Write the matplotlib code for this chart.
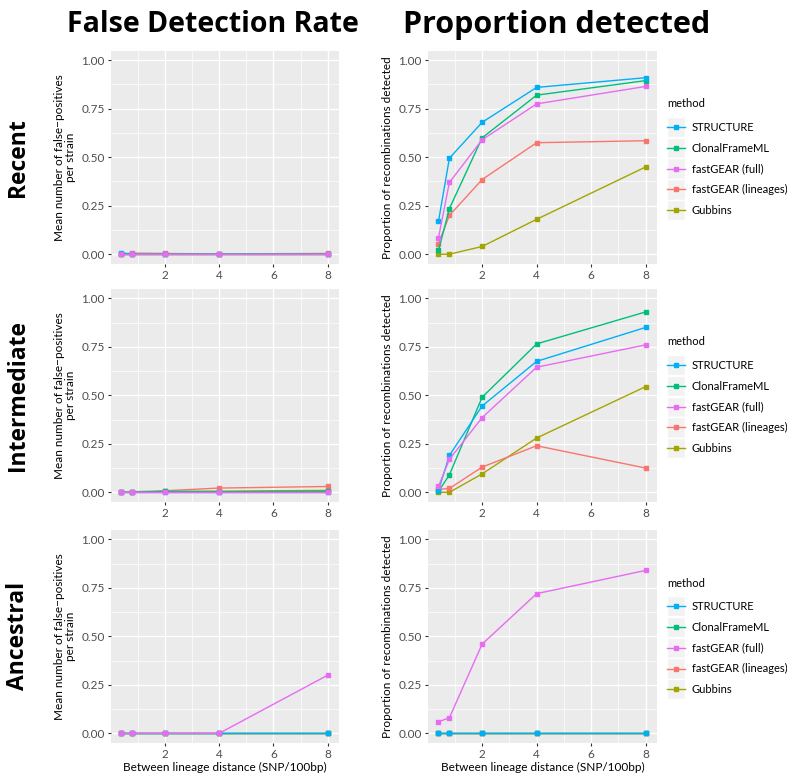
import matplotlib
matplotlib.use('Agg')
import matplotlib.pyplot as plt
from matplotlib.patches import Rectangle
from matplotlib.legend_handler import HandlerLine2D
from matplotlib.lines import Line2D
from matplotlib.ticker import MultipleLocator

plt.rcParams['font.family'] = ['Lato', 'DejaVu Sans']
HEAD_FONT = ['Open Sans', 'DejaVu Sans']

distance = [0.4, 0.8, 2, 4, 8]
methods = ['STRUCTURE', 'ClonalFrameML', 'fastGEAR (full)', 'fastGEAR (lineages)', 'Gubbins']
colors = {'STRUCTURE': '#00B0F6', 'ClonalFrameML': '#00BF7D', 'fastGEAR (full)': '#E76BF3',
          'fastGEAR (lineages)': '#F8766D', 'Gubbins': '#A3A500'}
draw_order = ['Gubbins', 'fastGEAR (lineages)', 'ClonalFrameML', 'STRUCTURE', 'fastGEAR (full)']

rows = ['Recent', 'Intermediate', 'Ancestral']

# false detection rate (mean false positives per strain)
fdr_recent = {
    'STRUCTURE': [0.008, 0, 0, 0, 0],
    'ClonalFrameML': [0, 0, 0, 0, 0],
    'fastGEAR (full)': [0, 0, 0, 0, 0],
    'fastGEAR (lineages)': [0, 0.006, 0.004, 0.002, 0.004],
    'Gubbins': [0, 0, 0, 0, 0],
}
fdr_intermediate = {
    'STRUCTURE': [0, 0, 0, 0, 0],
    'ClonalFrameML': [0, 0, 0.005, 0.003, 0.005],
    'fastGEAR (full)': [0, 0, 0, 0, 0],
    'fastGEAR (lineages)': [0, 0.003, 0.008, 0.022, 0.03],
    'Gubbins': [0, 0, 0.005, 0.006, 0.01],
}
fdr_ancestral = {
    'STRUCTURE': [0, 0, 0, 0, 0],
    'ClonalFrameML': [0, 0, 0, 0, 0],
    'fastGEAR (full)': [0, 0, 0, 0, 0.30],
    'fastGEAR (lineages)': [0, 0, 0, 0, 0],
    'Gubbins': [0, 0, 0, 0, 0],
}

# proportion of recombinations detected
prop_recent = {
    'STRUCTURE': [0.17, 0.495, 0.68, 0.86, 0.91],
    'ClonalFrameML': [0.02, 0.235, 0.60, 0.82, 0.895],
    'fastGEAR (full)': [0.085, 0.37, 0.59, 0.775, 0.865],
    'fastGEAR (lineages)': [0.055, 0.20, 0.385, 0.575, 0.585],
    'Gubbins': [0.0, 0.0, 0.04, 0.18, 0.45],
}
prop_intermediate = {
    'STRUCTURE': [0.01, 0.19, 0.445, 0.675, 0.85],
    'ClonalFrameML': [0.005, 0.09, 0.49, 0.765, 0.93],
    'fastGEAR (full)': [0.03, 0.17, 0.385, 0.645, 0.76],
    'fastGEAR (lineages)': [0.015, 0.02, 0.13, 0.24, 0.125],
    'Gubbins': [0, 0, 0.095, 0.28, 0.545],
}
prop_ancestral = {
    'STRUCTURE': [0, 0, 0, 0, 0],
    'ClonalFrameML': [0, 0, 0, 0, 0],
    'fastGEAR (full)': [0.06, 0.08, 0.46, 0.72, 0.84],
    'fastGEAR (lineages)': [0, 0, 0, 0, 0],
    'Gubbins': [0, 0, 0, 0, 0],
}

fdr_data = [fdr_recent, fdr_intermediate, fdr_ancestral]
prop_data = [prop_recent, prop_intermediate, prop_ancestral]


class HandlerKey(HandlerLine2D):
    # ggplot-like legend key: grey box behind the line+point
    def create_artists(self, legend, orig_handle, xdescent, ydescent, width, height, fontsize, trans):
        bg = Rectangle((-xdescent, -ydescent - 4.5), width, height + 9, facecolor='#F2F2F2',
                       edgecolor='white', linewidth=1, transform=trans)
        arts = super().create_artists(legend, orig_handle, xdescent, ydescent, width, height, fontsize, trans)
        return [bg] + arts


def style(ax):
    ax.set_facecolor('#EBEBEB')
    for s in ax.spines.values():
        s.set_visible(False)
    ax.set_xlim(0.02, 8.42)
    ax.set_ylim(-0.05, 1.05)
    ax.xaxis.set_major_locator(MultipleLocator(2))
    ax.xaxis.set_minor_locator(MultipleLocator(1))
    ax.yaxis.set_major_locator(MultipleLocator(0.25))
    ax.yaxis.set_minor_locator(MultipleLocator(0.125))
    ax.yaxis.set_major_formatter(lambda v, p: '%.2f' % v)
    ax.grid(which='major', color='white', linewidth=1.0)
    ax.grid(which='minor', color='white', linewidth=0.5)
    ax.set_axisbelow(True)
    ax.tick_params(which='major', length=2.5, color='#333333', labelsize=8.5, labelcolor='#4D4D4D', pad=2)
    ax.tick_params(which='minor', length=0)


def draw(ax, data):
    for m in draw_order:
        ax.plot(distance, data[m], color=colors[m], linewidth=1, marker='s', markersize=3.5)


fig = plt.figure(figsize=(7.87, 7.74), dpi=100)
bottoms = [0.659, 0.3514, 0.040]
h = 0.2757
for i, row in enumerate(rows):
    axl = fig.add_axes([0.141, bottoms[i], 0.290, h])
    axr = fig.add_axes([0.544, bottoms[i], 0.291, h])
    draw(axl, fdr_data[i])
    draw(axr, prop_data[i])
    for ax in (axl, axr):
        style(ax)
    axl.set_ylabel('Mean number of false\u2212positives\nper strain', fontsize=8.5, linespacing=1.0)
    axr.set_ylabel('Proportion of recombinations detected', fontsize=8.5)
    if i == 2:
        axl.set_xlabel('Between lineage distance (SNP/100bp)', fontsize=8.5, labelpad=1)
        axr.set_xlabel('Between lineage distance (SNP/100bp)', fontsize=8.5, labelpad=1)
    handles = [Line2D([], [], color=colors[m], linewidth=1, marker='s', markersize=3) for m in methods]
    leg = axr.legend(handles, methods, title='method', loc='center left', bbox_to_anchor=(1.045, 0.5),
                     frameon=False, fontsize=8, title_fontsize=8, handlelength=1.6,
                     handletextpad=0.6, labelspacing=0.88, borderaxespad=0, borderpad=0,
                     handler_map={Line2D: HandlerKey()})
    leg._legend_box.align = 'left'
    leg._legend_box.sep = 9
    fig.text(0.023, bottoms[i] + h / 2, row, rotation=90, ha='center', va='center',
             fontsize=16.5, fontweight='bold', family=HEAD_FONT)

fig.text(0.271, 0.968, 'False Detection Rate', ha='center', va='center', fontsize=20.5,
         fontweight='bold', family=HEAD_FONT)
fig.text(0.707, 0.968, 'Proportion detected', ha='center', va='center', fontsize=22,
         fontweight='bold', family=HEAD_FONT)

fig.savefig('out.png', dpi=100)
